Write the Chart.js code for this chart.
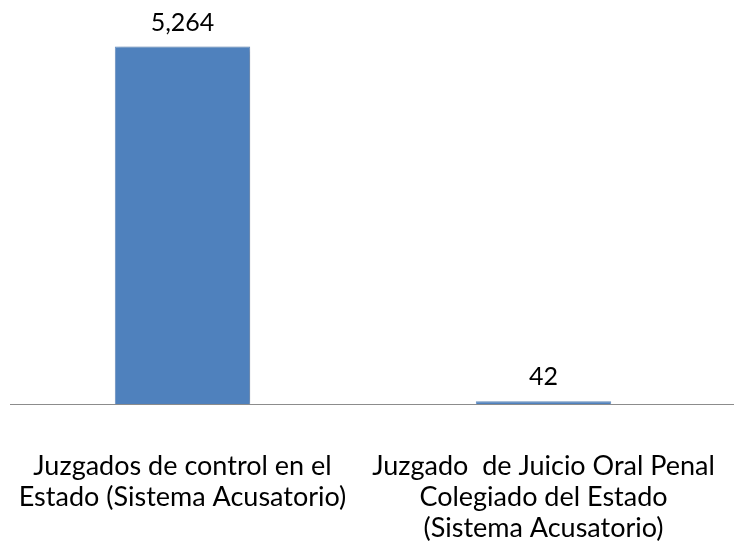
<!DOCTYPE html>
<html>
<head>
<meta charset="utf-8">
<script src="https://cdn.jsdelivr.net/npm/chart.js@4"></script>
<style>
  html, body { margin: 0; padding: 0; background: #fff; }
  #wrap { width: 734px; height: 547px; }
</style>
</head>
<body>
<div id="wrap"><canvas id="chartCanvas" width="734" height="547"></canvas></div>
<script>
// Chart data
const categories = [
  ['Juzgados de control en el', 'Estado (Sistema Acusatorio)'],
  ['Juzgado  de Juicio Oral Penal', 'Colegiado del Estado', '(Sistema Acusatorio)']
];
const values = [5264, 42];
const valueLabels = ['5,264', '42'];

const LABEL_FONT = '27px Lato, "Open Sans", sans-serif';
const VALUE_FONT = '25px Lato, "Open Sans", sans-serif';

// draws value labels, category labels and the base line
const labelPlugin = {
  id: 'labels',
  beforeDatasetsDraw(chart) {
    const ctx = chart.ctx;
    ctx.save();
    ctx.shadowColor = 'rgba(0,0,0,0.25)';
    ctx.shadowBlur = 6;
    ctx.shadowOffsetX = 2;
    ctx.shadowOffsetY = 1;
  },
  afterDatasetsDraw(chart) {
    const ctx = chart.ctx;
    ctx.restore();
    const area = chart.chartArea;
    const meta = chart.getDatasetMeta(0);

    // base line
    ctx.save();
    ctx.strokeStyle = '#8c8c8c';
    ctx.lineWidth = 1;
    ctx.beginPath();
    ctx.moveTo(10, area.bottom + 0.5);
    ctx.lineTo(chart.width, area.bottom + 0.5);
    ctx.stroke();

    ctx.fillStyle = '#000';
    ctx.textAlign = 'center';

    meta.data.forEach((bar, i) => {
      ctx.font = VALUE_FONT;
      ctx.textBaseline = 'alphabetic';
      ctx.fillText(valueLabels[i], bar.x, bar.y - 16);

      ctx.font = LABEL_FONT;
      const lines = categories[i];
      let maxW = 0;
      lines.forEach(l => { maxW = Math.max(maxW, ctx.measureText(l).width); });
      let cx = Math.max(bar.x, maxW / 2 + 8);
      cx = Math.min(cx, chart.width - maxW / 2 - 8);
      ctx.textBaseline = 'middle';
      lines.forEach((l, j) => {
        ctx.fillText(l, cx, area.bottom + 62 + j * 31);
      });
    });
    ctx.restore();
  }
};

new Chart(document.getElementById('chartCanvas'), {
  type: 'bar',
  data: {
    labels: categories,
    datasets: [{
      data: values,
      backgroundColor: '#4f81bd',
      borderColor: '#6f98c9',
      borderWidth: 1,
      barPercentage: 0.75,
      categoryPercentage: 0.5
    }]
  },
  options: {
    responsive: false,
    animation: false,
    layout: { padding: { left: 2, right: 10, top: 17, bottom: 143 } },
    plugins: {
      legend: { display: false },
      tooltip: { enabled: false }
    },
    scales: {
      x: { display: false },
      y: { display: false, min: 0, max: 5700 }
    }
  },
  plugins: [labelPlugin]
});
</script>
</body>
</html>
